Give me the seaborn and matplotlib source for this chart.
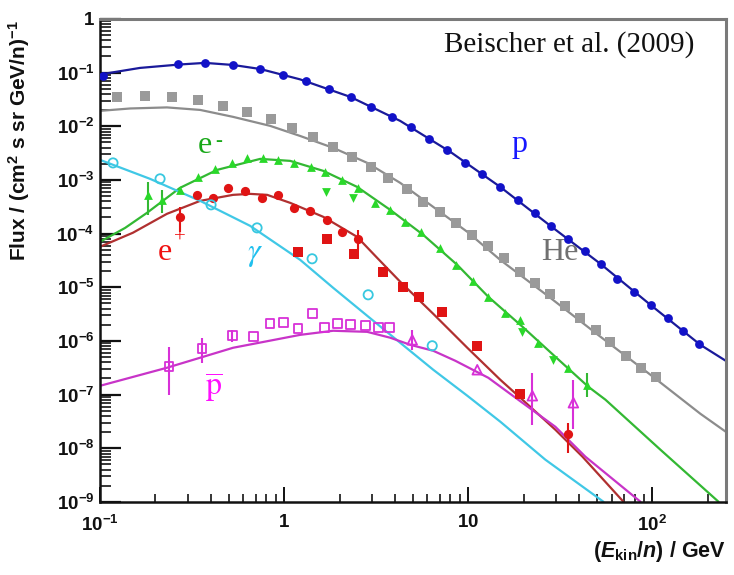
import matplotlib
matplotlib.use("Agg")
import matplotlib.pyplot as plt
import seaborn as sns
from matplotlib.ticker import FixedLocator, FixedFormatter, LogLocator, NullFormatter

# ---------------- data ----------------
# protons
p_E = [0.104, 0.266, 0.373, 0.528, 0.741, 0.988, 1.32, 1.76, 2.31, 2.97, 3.87, 4.90, 6.14, 7.69,
       9.64, 11.9, 14.9, 18.7, 22.9, 28.3, 34.9, 43.2, 52.8, 64.6, 79.8, 98.8, 121, 147, 180]
p_F = [0.0868, 0.145, 0.152, 0.139, 0.117, 0.0906, 0.0700, 0.0497, 0.0353, 0.0230, 0.0150, 0.00975,
       0.00583, 0.00364, 0.00208, 0.00130, 7.45e-4, 4.26e-4, 2.44e-4, 1.40e-4, 8.0e-5, 4.79e-5,
       2.74e-5, 1.44e-5, 8.24e-6, 4.72e-6, 2.70e-6, 1.55e-6, 8.87e-7]
p_fit_E = [0.1, 0.165, 0.272, 0.372, 0.528, 0.741, 1.22, 2.29, 4.27, 7.98, 14.9, 27.9, 52.2, 97.5, 182, 250]
p_fit_F = [0.0925, 0.1225, 0.142, 0.152, 0.139, 0.117, 0.075, 0.0353, 0.0126, 0.00335, 7.44e-4,
           1.40e-4, 2.74e-5, 4.72e-6, 8.49e-7, 4.28e-7]

# helium
he_E = [0.124, 0.176, 0.246, 0.341, 0.466, 0.629, 0.850, 1.105, 1.44, 1.85, 2.34, 2.97, 3.67, 4.66,
        5.69, 7.05, 8.61, 10.5, 12.8, 15.7, 19.2, 23.1, 27.9, 33.7, 40.6, 49.6, 59.2, 72.2, 87.1, 104]
he_F = [0.0353, 0.0368, 0.0353, 0.0310, 0.0240, 0.0185, 0.0137, 0.00934, 0.00635, 0.00413, 0.00269,
        0.00175, 0.00109, 6.83e-4, 3.91e-4, 2.55e-4, 1.59e-4, 9.5e-5, 5.93e-5, 3.54e-5, 1.94e-5,
        1.21e-5, 7.57e-6, 4.52e-6, 2.70e-6, 1.62e-6, 9.66e-7, 5.30e-7, 3.17e-7, 2.15e-7]
he_fit_E = [0.1, 0.146, 0.231, 0.350, 0.528, 0.839, 1.22, 1.85, 2.83, 4.27, 6.45, 9.88, 14.9, 27.9,
            52.2, 97.5, 182, 250]
he_fit_F = [0.0194, 0.0215, 0.0225, 0.0202, 0.0150, 0.0102, 0.00662, 0.00396, 0.00208, 8.83e-4,
            3.15e-4, 1.08e-4, 3.25e-5, 6.37e-6, 1.20e-6, 2.35e-7, 4.41e-8, 2.04e-8]

# electrons
em_E = [0.182, 0.217, 0.272, 0.341, 0.422, 0.522, 0.629, 0.769, 0.928, 1.133, 1.402, 1.671, 2.067,
        2.525, 3.123, 3.767, 4.546, 5.555, 7.045, 8.606, 10.65, 12.85, 15.89, 19.17, 24.01, 34.96, 44.35]
em_F = [5.28e-4, 4.26e-4, 6.54e-4, 1.14e-3, 1.61e-3, 2.08e-3, 2.58e-3, 2.58e-3, 2.37e-3, 2.08e-3,
        1.75e-3, 1.42e-3, 1.00e-3, 7.13e-4, 3.75e-4, 2.77e-4, 1.66e-4, 1.08e-4, 5.44e-5, 2.62e-5,
        1.32e-5, 6.65e-6, 3.35e-6, 2.48e-6, 9.25e-7, 3.17e-7, 1.53e-7]
em_dn_E = [1.691, 2.371, 19.66, 28.97]
em_dn_F = [6.00e-4, 4.64e-4, 1.48e-6, 4.47e-7]
em_err_E = [0.182, 0.217, 44.35]
em_err_lo = [2.24e-4, 2.44e-4, 9.14e-8]
em_err_hi = [9.22e-4, 6.54e-4, 2.56e-7]
em_fit_E = [0.1, 0.137, 0.180, 0.272, 0.432, 0.741, 1.078, 1.63, 2.49, 3.77, 5.69, 8.71, 12.85, 19.7,
            29.7, 44.9, 55.6, 110.5, 228.5]
em_fit_F = [7.03e-5, 1.28e-4, 2.44e-4, 7.13e-4, 1.54e-3, 2.47e-3, 2.27e-3, 1.48e-3, 7.44e-4, 2.77e-4,
            9.50e-5, 2.62e-5, 6.65e-6, 1.84e-6, 5.08e-7, 1.40e-7, 8.04e-8, 9.42e-9, 1.01e-9]

# positrons
ep_E = [0.272, 0.337, 0.411, 0.497, 0.614, 0.759, 0.928, 1.133, 1.384, 1.713, 2.067, 2.525, 34.96]
ep_F = [2.06e-4, 5.28e-4, 4.64e-4, 7.13e-4, 6.27e-4, 4.64e-4, 5.28e-4, 3.02e-4, 2.66e-4, 1.81e-4,
        1.08e-4, 8.00e-5, 1.87e-8]
ep_sq_E = [1.191, 1.713, 2.401, 3.452, 4.434, 5.418, 7.224, 11.19, 19.17]
ep_sq_F = [4.58e-5, 8.00e-5, 4.21e-5, 1.94e-5, 1.02e-5, 6.65e-6, 3.50e-6, 8.14e-7, 1.04e-7]
ep_err_E = [0.272, 2.525, 34.96]
ep_err_lo = [1.08e-4, 4.99e-5, 8.28e-9]
ep_err_hi = [3.15e-4, 1.18e-4, 3.00e-8]
ep_fit_E = [0.1, 0.151, 0.231, 0.350, 0.528, 0.653, 0.809, 1.078, 1.63, 2.49, 3.20, 4.27, 6.45,
            9.88, 14.93, 19.7, 29.7, 41.7, 69.6]
ep_fit_F = [5.68e-5, 1.04e-4, 2.34e-4, 4.08e-4, 5.28e-4, 5.51e-4, 5.28e-4, 3.75e-4, 2.06e-4, 8.72e-5,
            3.54e-5, 1.27e-5, 3.21e-6, 7.47e-7, 1.89e-7, 8.04e-8, 2.22e-8, 6.98e-9, 1.01e-9]

# gamma rays
g_E = [0.1177, 0.212, 0.401, 0.713, 1.419, 2.861, 6.372]
g_F = [2.08e-3, 1.05e-3, 3.44e-4, 1.28e-4, 3.40e-5, 7.25e-6, 8.14e-7]
g_fit_E = [0.1, 0.187, 0.350, 0.653, 1.222, 1.846, 2.825, 4.27, 6.452, 9.88, 14.93, 26.21, 54.2]
g_fit_F = [2.37e-3, 1.05e-3, 4.08e-4, 1.40e-4, 3.25e-5, 9.79e-6, 2.95e-6, 9.25e-7, 2.91e-7, 9.54e-8,
           3.13e-8, 6.14e-9, 1.01e-9]

# antiprotons
pb_E = [0.237, 0.358, 0.522, 0.679, 0.839, 0.988, 1.191, 1.419, 1.650, 1.941, 2.285, 2.755, 3.243, 3.721]
pb_F = [3.31e-7, 7.16e-7, 1.25e-6, 1.20e-6, 2.09e-6, 2.18e-6, 1.69e-6, 3.21e-6, 1.76e-6, 2.09e-6,
        2.00e-6, 1.92e-6, 1.76e-6, 1.76e-6]
pb_err_E = [0.237, 0.358, 0.522]
pb_err_lo = [9.95e-8, 3.93e-7, 9.5e-7]
pb_err_hi = [7.80e-7, 1.15e-6, 1.62e-6]
pb_tri_E = [4.962, 11.19, 22.28, 37.22]
pb_tri_F = [1.05e-6, 2.91e-7, 9.54e-8, 7.07e-8]
pb_tri_err_E = [4.962, 22.28, 37.22]
pb_tri_err_lo = [6.86e-7, 2.75e-8, 2.32e-8]
pb_tri_err_hi = [1.62e-6, 2.56e-7, 1.89e-7]
pb_fit_E = [0.1, 0.231, 0.528, 1.222, 1.846, 2.825, 3.767, 4.839, 6.452, 8.50, 12.85, 19.66, 29.71,
            43.25, 86.1]
pb_fit_F = [1.46e-7, 3.17e-7, 7.47e-7, 1.30e-6, 1.55e-6, 1.48e-6, 1.15e-6, 8.49e-7, 6.57e-7,
            4.28e-7, 2.06e-7, 7.07e-8, 2.52e-8, 6.98e-9, 1.01e-9]

x_ticks = [0.1, 1, 10, 100]
x_labels = [r"$10^{-1}$", "$1$", "$10$", r"$10^{2}$"]
y_ticks = [1e-9, 1e-8, 1e-7, 1e-6, 1e-5, 1e-4, 1e-3, 1e-2, 1e-1, 1]
y_labels = [r"$10^{-9}$", r"$10^{-8}$", r"$10^{-7}$", r"$10^{-6}$", r"$10^{-5}$", r"$10^{-4}$",
            r"$10^{-3}$", r"$10^{-2}$", r"$10^{-1}$", r"$1\ \ \ \,$"]

# ---------------- style ----------------
sns.set_theme(style="ticks")
plt.rcParams["font.family"] = ["Liberation Sans", "DejaVu Sans"]
plt.rcParams["mathtext.fontset"] = "custom"
plt.rcParams["mathtext.rm"] = "Liberation Sans:bold"
plt.rcParams["mathtext.it"] = "Liberation Sans:italic:bold"
plt.rcParams["mathtext.bf"] = "Liberation Sans:bold"

fig = plt.figure(figsize=(7.34, 5.75), dpi=100)
ax = fig.add_axes([0.1362, 0.127, 0.8525, 0.840])
ax.set_xscale("log")
ax.set_yscale("log")

C_P, C_PL = "#1212c8", "#1a1a9a"
C_HE, C_HEL = "#9a9a9a", "#8c8c8c"
C_EM, C_EML = "#2ad82a", "#33b833"
C_EP, C_EPL = "#e01414", "#b03030"
C_G, C_GL = "#38c8e0", "#40c8e6"
C_PB, C_PBL = "#d830d8", "#c834c8"

lw = 1.6
def fit(x, y, c):
    sns.lineplot(x=x, y=y, ax=ax, color=c, lw=lw, estimator=None, sort=False, zorder=2)

fit(p_fit_E, p_fit_F, C_PL)
fit(he_fit_E, he_fit_F, C_HEL)
fit(em_fit_E, em_fit_F, C_EML)
fit(ep_fit_E, ep_fit_F, C_EPL)
fit(g_fit_E, g_fit_F, C_GL)
fit(pb_fit_E, pb_fit_F, C_PBL)

def bars(x, lo, hi, c):
    ax.vlines(x, lo, hi, colors=c, lw=1.5, zorder=3)

bars(em_err_E, em_err_lo, em_err_hi, C_EML)
bars(ep_err_E, ep_err_lo, ep_err_hi, C_EP)
bars(pb_err_E, pb_err_lo, pb_err_hi, C_PB)
bars(pb_tri_err_E, pb_tri_err_lo, pb_tri_err_hi, C_PB)

sc = dict(ax=ax, legend=False, zorder=4)
sns.scatterplot(x=p_E, y=p_F, color=C_P, marker="o", s=40, edgecolor=C_P, linewidth=0, **sc)
sns.scatterplot(x=he_E, y=he_F, color=C_HE, marker="s", s=42, edgecolor=C_HE, linewidth=0, **sc)
sns.scatterplot(x=em_E, y=em_F, color=C_EM, marker="^", s=40, edgecolor=C_EM, linewidth=0, **sc)
sns.scatterplot(x=em_dn_E, y=em_dn_F, color=C_EM, marker="v", s=40, edgecolor=C_EM, linewidth=0, **sc)
sns.scatterplot(x=ep_E, y=ep_F, color=C_EP, marker="o", s=44, edgecolor=C_EP, linewidth=0, **sc)
sns.scatterplot(x=ep_sq_E, y=ep_sq_F, color=C_EP, marker="s", s=44, edgecolor=C_EP, linewidth=0, **sc)
sns.scatterplot(x=g_E, y=g_F, color=C_G, marker="o", s=44, facecolors="none", edgecolor=C_G,
                linewidth=1.3, **sc)
sns.scatterplot(x=pb_E, y=pb_F, color=C_PB, marker="s", s=40, facecolors="none", edgecolor=C_PB,
                linewidth=1.3, **sc)
sns.scatterplot(x=pb_tri_E, y=pb_tri_F, color=C_PB, marker="^", s=48, facecolors="none",
                edgecolor=C_PB, linewidth=1.3, **sc)

# ---------------- axes ----------------
ax.set_xlim(0.1, 250)
ax.set_ylim(1e-9, 1)
ax.xaxis.set_major_locator(FixedLocator(x_ticks))
ax.xaxis.set_major_formatter(FixedFormatter(x_labels))
ax.yaxis.set_major_locator(FixedLocator(y_ticks))
ax.yaxis.set_major_formatter(FixedFormatter(y_labels))
ax.xaxis.set_minor_locator(LogLocator(base=10, subs=range(2, 10), numticks=20))
ax.yaxis.set_minor_locator(LogLocator(base=10, subs=range(2, 10), numticks=20))
ax.xaxis.set_minor_formatter(NullFormatter())
ax.yaxis.set_minor_formatter(NullFormatter())

ax.tick_params(axis="y", which="major", direction="in", length=15, width=1.6, labelsize=13.5,
               pad=4, colors="#111111", right=False)
ax.tick_params(axis="y", which="minor", direction="in", length=8, width=1.3, right=False)
ax.tick_params(axis="x", which="major", direction="in", length=11, width=1.4, labelsize=13.5,
               pad=9, colors="#111111", top=False)
ax.tick_params(axis="x", which="minor", direction="in", length=6, width=1.3, top=False)

for s in ["left", "bottom"]:
    ax.spines[s].set_color("#111111")
    ax.spines[s].set_linewidth(1.8)
for s in ["top", "right"]:
    ax.spines[s].set_visible(True)
    ax.spines[s].set_color("#7a7a7a")
    ax.spines[s].set_linewidth(2.2)

ax.set_ylabel(r"Flux / (cm$^{2}$ s sr GeV/n)$^{-1}$", fontsize=15, fontweight="bold",
              color="#111111")
ax.yaxis.set_label_coords(-0.108, 0.748)
ax.set_xlabel(r"$(E_{\mathrm{kin}}/n)$ / GeV", fontsize=15.5, fontweight="bold", color="#111111",
              loc="right")
ax.xaxis.set_label_coords(1.0, -0.076)
ax.xaxis.label.set_va("top")

# ---------------- labels ----------------
serif = "Liberation Serif"
tkw = dict(transform=ax.transAxes, fontfamily=serif, math_fontfamily="stix")
ax.text(0.750, 0.932, "Beischer et al. (2009)", ha="center", va="baseline", fontsize=21,
        color="#111111", **tkw)
ax.text(0.670, 0.724, "p", ha="center", va="baseline", fontsize=23, color="#1818ff", **tkw)
ax.text(0.735, 0.500, "He", ha="center", va="baseline", fontsize=23, color="#707070", **tkw)
ax.text(0.157, 0.722, "e", ha="left", va="baseline", fontsize=23, color="#18a818", **tkw)
ax.text(0.185, 0.738, "-", ha="left", va="baseline", fontsize=15, color="#18a818", **tkw)
ax.text(0.0927, 0.501, "e", ha="left", va="baseline", fontsize=23, color="#f01010", **tkw)
ax.text(0.118, 0.536, "+", ha="left", va="baseline", fontsize=15, color="#f01010", **tkw)
ax.text(0.248, 0.501, r"$\gamma$", ha="center", va="baseline", fontsize=23, color="#20c0ee", **tkw)
ax.text(0.168, 0.219, r"$\overline{\mathrm{p}}$", ha="left", va="baseline", fontsize=23,
        color="#ff10ff", **tkw)

fig.savefig("out.png", dpi=100, facecolor="white")
